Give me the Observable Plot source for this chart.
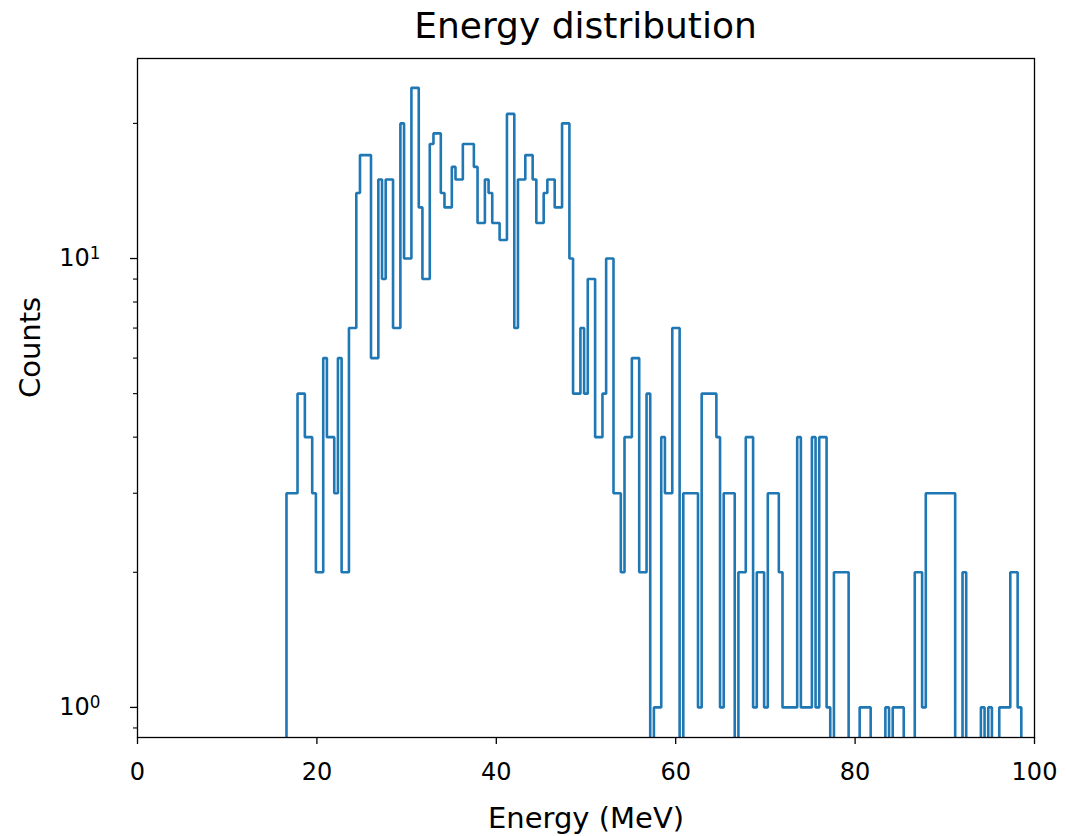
<!DOCTYPE html>
<html>
<head>
<meta charset="utf-8">
<script src="https://cdn.jsdelivr.net/npm/d3@7"></script>
<script src="https://cdn.jsdelivr.net/npm/@observablehq/plot@0.6"></script>
<style>
  html, body { margin: 0; padding: 0; background: #fff; }
  body { width: 1066px; height: 836px; overflow: hidden; font-family: "DejaVu Sans", sans-serif; }
  #title { width: 1066px; height: 50px; overflow: visible; box-sizing: border-box; padding-left: 137px; padding-right: 32px;
           text-align: center; font-size: 36px; line-height: 52px; color: #000; white-space: nowrap; }
  #chart svg { display: block; }
</style>
</head>
<body>
<div id="title">Energy distribution</div>
<div id="chart"></div>
<script>
// ---- data (step histogram, 200 equal bins) ----
const histStart = 16.61;   // MeV, left edge of first bin
const histEnd = 98.53;     // MeV, right edge of last bin
const counts = [
  3,3,3,5,5,4,4,3,2,2,
  6,4,4,3,6,2,2,7,7,14,
  17,17,17,6,6,15,9,15,15,7,
  7,20,10,10,24,24,13,9,9,18,
  19,19,14,13,13,16,15,15,18,18,
  18,16,12,12,15,14,12,12,11,11,
  21,21,7,15,15,17,17,15,12,12,
  14,15,15,13,13,20,20,10,5,5,
  7,5,9,9,4,4,5,10,10,3,
  3,2,4,4,6,6,2,2,5,0,
  1,1,4,3,3,7,7,0,3,3,
  3,3,1,5,5,5,5,4,1,3,
  3,3,0,2,2,4,4,1,2,2,
  1,3,3,3,2,1,1,1,1,4,
  1,1,1,4,1,4,4,1,0,2,
  2,2,2,0,0,0,1,1,1,0,
  0,0,0,1,0,1,1,1,0,0,
  0,2,2,1,3,3,3,3,3,3,
  3,3,0,0,2,0,0,0,0,1,
  0,1,0,0,1,1,1,2,2,1
];
const xTicks = [0, 20, 40, 60, 80, 100];
const yMajorTicks = [1, 10];
const yMajorBase = "10";
const yMajorExponents = ["0", "1"];
const yMinorTicks = [0.9, 2, 3, 4, 5, 6, 7, 8, 9, 20];
const xDomain = [0, 100];
const yDomain = [0.857, 27.9];
const xLabel = "Energy (MeV)";
const yLabel = "Counts";

// ---- build step outline (zero bins drop below the frame and are clipped) ----
const nBins = counts.length;
const binWidth = (histEnd - histStart) / nBins;
const below = yDomain[0] / 2;
const outline = [{x: histStart, y: below}];
counts.forEach((c, i) => {
  const y = c > 0 ? c : below;
  outline.push({x: histStart + i * binWidth, y});
  outline.push({x: histStart + (i + 1) * binWidth, y});
});
outline.push({x: histEnd, y: below});

const labelKey = d => "§" + yMajorExponents[yMajorTicks.indexOf(d)];

const chart = Plot.plot({
  width: 1066,
  height: 786,
  marginTop: 8,
  marginBottom: 99,
  marginLeft: 137,
  marginRight: 32,
  style: {fontFamily: "DejaVu Sans", fontSize: "24px", color: "#000", background: "#fff"},
  x: {domain: xDomain},
  y: {type: "log", domain: yDomain},
  marks: [
    Plot.line(outline, {x: "x", y: "y", stroke: "#1f77b4", strokeWidth: 2.6, clip: true, strokeLinejoin: "miter"}),
    Plot.frame({stroke: "#000", strokeWidth: 1.3}),
    Plot.axisX({ticks: xTicks, tickSize: 7, tickPadding: 18, tickFormat: d => String(d), label: null, strokeWidth: 1.3, fontSize: 24}),
    Plot.axisY({ticks: yMajorTicks, tickSize: 7, tickPadding: 30, tickFormat: labelKey, label: null, strokeWidth: 1.3, fontSize: 24}),
    Plot.axisY({ticks: yMinorTicks, tickSize: 4, tickFormat: () => "", label: null, strokeWidth: 1.1}),
    Plot.text([xLabel], {text: d => d, frameAnchor: "bottom", dy: 90, fontSize: 29}),
    Plot.text([yLabel], {text: d => d, frameAnchor: "left", dx: -107, rotate: -90, fontSize: 29})
  ]
});
document.getElementById("chart").appendChild(chart);

// render the power-of-ten labels as 10 with a raised, smaller exponent
d3.select(chart).selectAll("text").each(function() {
  const t = this.textContent;
  if (t.startsWith("§")) {
    const exp = t.slice(1);
    const sel = d3.select(this);
    sel.text(null);
    sel.append("tspan").text(yMajorBase);
    sel.append("tspan").attr("dy", "-0.42em").attr("font-size", "0.7em").text(exp);
  }
});
</script>
</body>
</html>
